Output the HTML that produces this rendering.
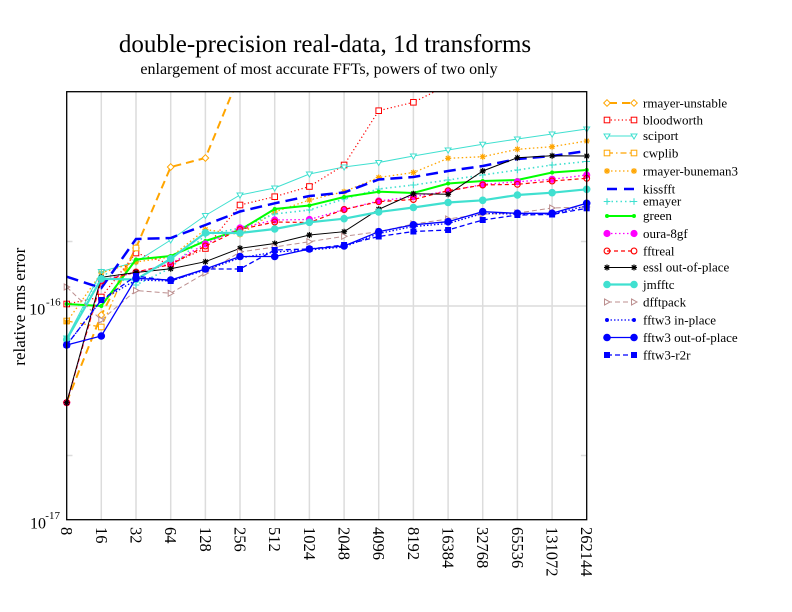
<!DOCTYPE html>
<html><head><meta charset="utf-8"><style>
html,body{margin:0;padding:0;background:#fff;}
svg{display:block;}
text{font-family:"Liberation Serif",serif;fill:#000;}
</style></head><body>
<svg width="792" height="612" viewBox="0 0 792 612" xmlns="http://www.w3.org/2000/svg">
<defs>
<clipPath id="pc"><rect x="55" y="91.7" width="545" height="433"/></clipPath>
<marker id="mDia" viewBox="-5 -5 10 10" refX="0" refY="0" markerWidth="10" markerHeight="10" markerUnits="userSpaceOnUse"><path d="M0,-3.3L3.3,0L0,3.3L-3.3,0Z" fill="#fff" stroke="#FFA500" stroke-width="1"/></marker>
<marker id="mSqR" viewBox="-5 -5 10 10" refX="0" refY="0" markerWidth="10" markerHeight="10" markerUnits="userSpaceOnUse"><rect x="-2.8" y="-2.8" width="5.6" height="5.6" fill="#fff" stroke="#FF0000" stroke-width="1"/></marker>
<marker id="mTri" viewBox="-5 -5 10 10" refX="0" refY="0" markerWidth="10" markerHeight="10" markerUnits="userSpaceOnUse"><path d="M-3,-2L3,-2L0,3Z" fill="#fff" stroke="#40E0D0" stroke-width="1"/></marker>
<marker id="mSqO" viewBox="-5 -5 10 10" refX="0" refY="0" markerWidth="10" markerHeight="10" markerUnits="userSpaceOnUse"><rect x="-2.8" y="-2.8" width="5.6" height="5.6" fill="#fff" stroke="#FFA500" stroke-width="1"/></marker>
<marker id="mAstO" viewBox="-5 -5 10 10" refX="0" refY="0" markerWidth="10" markerHeight="10" markerUnits="userSpaceOnUse"><path d="M-3,0H3M0,-3V3M-2.2,-2.2L2.2,2.2M-2.2,2.2L2.2,-2.2" stroke="#FFA500" stroke-width="1.2" fill="none"/></marker>
<marker id="mPlus" viewBox="-5 -5 10 10" refX="0" refY="0" markerWidth="10" markerHeight="10" markerUnits="userSpaceOnUse"><path d="M-3.3,0H3.3M0,-3.3V3.3" stroke="#40E0D0" stroke-width="1.1" fill="none"/></marker>
<marker id="mDotG" viewBox="-5 -5 10 10" refX="0" refY="0" markerWidth="10" markerHeight="10" markerUnits="userSpaceOnUse"><circle r="2" fill="#00FF00"/></marker>
<marker id="mCirM" viewBox="-5 -5 10 10" refX="0" refY="0" markerWidth="10" markerHeight="10" markerUnits="userSpaceOnUse"><circle r="3.6" fill="#FF00FF"/></marker>
<marker id="mCirR" viewBox="-5 -5 10 10" refX="0" refY="0" markerWidth="10" markerHeight="10" markerUnits="userSpaceOnUse"><circle r="2.9" fill="none" stroke="#FF0000" stroke-width="1.1"/></marker>
<marker id="mAstK" viewBox="-5 -5 10 10" refX="0" refY="0" markerWidth="10" markerHeight="10" markerUnits="userSpaceOnUse"><path d="M-3,0H3M0,-3V3M-2.2,-2.2L2.2,2.2M-2.2,2.2L2.2,-2.2" stroke="#000" stroke-width="1.2" fill="none"/></marker>
<marker id="mCirT" viewBox="-5 -5 10 10" refX="0" refY="0" markerWidth="10" markerHeight="10" markerUnits="userSpaceOnUse"><circle r="3.8" fill="#40E0D0"/></marker>
<marker id="mTriR" viewBox="-5 -5 10 10" refX="0" refY="0" markerWidth="10" markerHeight="10" markerUnits="userSpaceOnUse"><path d="M-2.5,-3L3,0L-2.5,3Z" fill="#fff" stroke="#BC8F8F" stroke-width="1"/></marker>
<marker id="mDotB" viewBox="-5 -5 10 10" refX="0" refY="0" markerWidth="10" markerHeight="10" markerUnits="userSpaceOnUse"><circle r="2" fill="#0000FF"/></marker>
<marker id="mCirB" viewBox="-5 -5 10 10" refX="0" refY="0" markerWidth="10" markerHeight="10" markerUnits="userSpaceOnUse"><circle r="3.8" fill="#0000FF"/></marker>
<marker id="mSqB" viewBox="-5 -5 10 10" refX="0" refY="0" markerWidth="10" markerHeight="10" markerUnits="userSpaceOnUse"><rect x="-3" y="-3" width="6" height="6" fill="#0000FF"/></marker>
</defs>

<rect width="792" height="612" fill="#fff"/>

<!-- titles -->
<text x="325" y="52" font-size="25" text-anchor="middle">double-precision real-data, 1d transforms</text>
<text x="319" y="74" font-size="16" text-anchor="middle">enlargement of most accurate FFTs, powers of two only</text>

<!-- grid -->
<g stroke="#dcdcdc" stroke-width="1.5">
<line x1="101.3" y1="91.7" x2="101.3" y2="519.7"/>
<line x1="136" y1="91.7" x2="136" y2="519.7"/>
<line x1="170.7" y1="91.7" x2="170.7" y2="519.7"/>
<line x1="205.4" y1="91.7" x2="205.4" y2="519.7"/>
<line x1="240" y1="91.7" x2="240" y2="519.7"/>
<line x1="274.7" y1="91.7" x2="274.7" y2="519.7"/>
<line x1="309.4" y1="91.7" x2="309.4" y2="519.7"/>
<line x1="344.1" y1="91.7" x2="344.1" y2="519.7"/>
<line x1="378.7" y1="91.7" x2="378.7" y2="519.7"/>
<line x1="413.4" y1="91.7" x2="413.4" y2="519.7"/>
<line x1="448.1" y1="91.7" x2="448.1" y2="519.7"/>
<line x1="482.7" y1="91.7" x2="482.7" y2="519.7"/>
<line x1="517.4" y1="91.7" x2="517.4" y2="519.7"/>
<line x1="552.1" y1="91.7" x2="552.1" y2="519.7"/>
<line x1="66.7" y1="306" x2="586.7" y2="306"/>
<line x1="66.7" y1="241.5" x2="72.5" y2="241.5"/>
<line x1="580.9" y1="241.5" x2="586.7" y2="241.5"/>
<line x1="66.7" y1="455.5" x2="72.5" y2="455.5"/>
<line x1="580.9" y1="455.5" x2="586.7" y2="455.5"/>
</g>

<!-- series -->
<g clip-path="url(#pc)" fill="none">
<polyline points="66.7,402 101.3,315 136,248 170.7,167 205.4,158 240,74" stroke="#FFA500" stroke-width="2" stroke-dasharray="8,5" marker-start="url(#mDia)" marker-mid="url(#mDia)" marker-end="url(#mDia)"/>
<polyline points="66.7,304 101.3,297 136,253 170.7,264 205.4,248.5 240,205 274.7,196.7 309.4,186.5 344.1,165 378.7,110.7 413.4,102.3 448.1,85" stroke="#FF0000" stroke-width="1.2" stroke-dasharray="1.2,2.5" marker-start="url(#mSqR)" marker-mid="url(#mSqR)" marker-end="url(#mSqR)"/>
<polyline points="66.7,338 101.3,271.5 136,262 170.7,240 205.4,215.5 240,195 274.7,188 309.4,174 344.1,167 378.7,162.5 413.4,156 448.1,150 482.7,144.3 517.4,139 552.1,134 586.7,129" stroke="#40E0D0" stroke-width="1" marker-start="url(#mTri)" marker-mid="url(#mTri)" marker-end="url(#mTri)"/>
<polyline points="66.7,321 101.3,327 136,248" stroke="#FFA500" stroke-width="1.2" stroke-dasharray="6,3,1.5,3" marker-start="url(#mSqO)" marker-mid="url(#mSqO)" marker-end="url(#mSqO)"/>
<polyline points="66.7,322 101.3,273 136,262 170.7,257 205.4,229.5 240,234.5 274.7,212 309.4,200 344.1,191.7 378.7,177.5 413.4,172.5 448.1,158.3 482.7,156.7 517.4,149.3 552.1,146.7 586.7,141" stroke="#FFA500" stroke-width="1.3" stroke-dasharray="1.5,2.5" marker-start="url(#mAstO)" marker-mid="url(#mAstO)" marker-end="url(#mAstO)"/>
<polyline points="66.7,276.7 101.3,288 136,239 170.7,238 205.4,225 240,211.5 274.7,203.3 309.4,196 344.1,192.5 378.7,179.5 413.4,177 448.1,171 482.7,166 517.4,159 552.1,156 586.7,151" stroke="#0000FF" stroke-width="2.5" stroke-dasharray="12,6"/>
<polyline points="66.7,340 101.3,272 136,285 170.7,268 205.4,235 240,228 274.7,214 309.4,210 344.1,199 378.7,189 413.4,185 448.1,180 482.7,175 517.4,170 552.1,165 586.7,161.5" stroke="#40E0D0" stroke-width="1.6" stroke-dasharray="1.5,3" marker-start="url(#mPlus)" marker-mid="url(#mPlus)" marker-end="url(#mPlus)"/>
<polyline points="66.7,304 101.3,306 136,259.5 170.7,256 205.4,241 240,230 274.7,209 309.4,205.5 344.1,197 378.7,191.7 413.4,193 448.1,183.5 482.7,181 517.4,180 552.1,172.5 586.7,170" stroke="#00FF00" stroke-width="2" marker-start="url(#mDotG)" marker-mid="url(#mDotG)" marker-end="url(#mDotG)"/>
<polyline points="66.7,402.7 101.3,280 136,272.7 170.7,263.5 205.4,244 240,228 274.7,220 309.4,219.5 344.1,209.5 378.7,201 413.4,196.7 448.1,191 482.7,184.5 517.4,181.7 552.1,179.3 586.7,175" stroke="#FF00FF" stroke-width="1.3" stroke-dasharray="1.5,2.5" marker-start="url(#mCirM)" marker-mid="url(#mCirM)" marker-end="url(#mCirM)"/>
<polyline points="66.7,402.7 101.3,281 136,272 170.7,264.5 205.4,246 240,229.5 274.7,222 309.4,222.5 344.1,209.5 378.7,201.7 413.4,199.5 448.1,190.7 482.7,185 517.4,184.3 552.1,181 586.7,178.3" stroke="#FF0000" stroke-width="1.2" stroke-dasharray="4,3" marker-start="url(#mCirR)" marker-mid="url(#mCirR)" marker-end="url(#mCirR)"/>
<polyline points="66.7,402.7 101.3,277.3 136,272.5 170.7,268.8 205.4,261.7 240,248.3 274.7,243.5 309.4,235 344.1,231.7 378.7,209.3 413.4,193.8 448.1,194.3 482.7,171 517.4,157.7 552.1,155.7 586.7,156" stroke="#000" stroke-width="1" marker-start="url(#mAstK)" marker-mid="url(#mAstK)" marker-end="url(#mAstK)"/>
<polyline points="66.7,339.5 101.3,278.8 136,279.5 170.7,258.8 205.4,232.8 240,233 274.7,229 309.4,222.3 344.1,218.7 378.7,212 413.4,207.5 448.1,202.5 482.7,200.3 517.4,195 552.1,192.7 586.7,189.3" stroke="#40E0D0" stroke-width="2.2" marker-start="url(#mCirT)" marker-mid="url(#mCirT)" marker-end="url(#mCirT)"/>
<polyline points="66.7,287 101.3,320 136,290.5 170.7,293.3 205.4,273 240,252 274.7,247 309.4,241.7 344.1,236.3 378.7,231.7 413.4,224 448.1,219 482.7,214 517.4,213 552.1,208 586.7,207" stroke="#BC8F8F" stroke-width="1" stroke-dasharray="5,3" marker-start="url(#mTriR)" marker-mid="url(#mTriR)" marker-end="url(#mTriR)"/>
<polyline points="66.7,345 101.3,300 136,280 170.7,281 205.4,270 240,258 274.7,252 309.4,250 344.1,247 378.7,233.5 413.4,226.5 448.1,223.5 482.7,213.5 517.4,214 552.1,214 586.7,206" stroke="#0000FF" stroke-width="1.3" stroke-dasharray="1.5,2" marker-start="url(#mDotB)" marker-mid="url(#mDotB)" marker-end="url(#mDotB)"/>
<polyline points="66.7,345 101.3,336 136,278.3 170.7,280 205.4,269 240,256.5 274.7,256.5 309.4,249 344.1,246 378.7,231.7 413.4,224.8 448.1,221.7 482.7,211.7 517.4,213.3 552.1,213.3 586.7,203.3" stroke="#0000FF" stroke-width="1.3" marker-start="url(#mCirB)" marker-mid="url(#mCirB)" marker-end="url(#mCirB)"/>
<polyline points="66.7,345 101.3,300 136,276 170.7,281 205.4,269 240,269 274.7,250 309.4,249 344.1,245 378.7,236.5 413.4,231.5 448.1,230 482.7,220 517.4,215 552.1,214.5 586.7,208.3" stroke="#0000FF" stroke-width="1.3" stroke-dasharray="5,3" marker-start="url(#mSqB)" marker-mid="url(#mSqB)" marker-end="url(#mSqB)"/>
</g>

<!-- frame -->
<rect x="66.7" y="91.7" width="520" height="428" fill="none" stroke="#000" stroke-width="1.3"/>

<!-- y axis labels -->
<text x="29.3" y="314.3" font-size="16">10</text>
<text x="46" y="305.7" font-size="11">-16</text>
<text x="30" y="528.3" font-size="16">10</text>
<text x="45.3" y="519" font-size="11">-17</text>
<text transform="translate(25,306.7) rotate(-90)" font-size="17" text-anchor="middle">relative rms error</text>

<!-- x tick labels -->
<g font-size="16.5">
<text transform="translate(61.2,527) rotate(90)">8</text>
<text transform="translate(95.8,527) rotate(90)">16</text>
<text transform="translate(130.5,527) rotate(90)">32</text>
<text transform="translate(165.2,527) rotate(90)">64</text>
<text transform="translate(199.9,527) rotate(90)">128</text>
<text transform="translate(234.5,527) rotate(90)">256</text>
<text transform="translate(269.2,527) rotate(90)">512</text>
<text transform="translate(303.9,527) rotate(90)">1024</text>
<text transform="translate(338.6,527) rotate(90)">2048</text>
<text transform="translate(373.2,527) rotate(90)">4096</text>
<text transform="translate(407.9,527) rotate(90)">8192</text>
<text transform="translate(442.6,527) rotate(90)">16384</text>
<text transform="translate(477.2,527) rotate(90)">32768</text>
<text transform="translate(511.9,527) rotate(90)">65536</text>
<text transform="translate(546.6,527) rotate(90)">131072</text>
<text transform="translate(581.2,527) rotate(90)">262144</text>
</g>

<!-- legend -->
<g fill="none">
<line x1="607" y1="103" x2="634" y2="103" stroke="#FFA500" stroke-width="2" stroke-dasharray="8,5" stroke-dashoffset="-2" marker-start="url(#mDia)" marker-end="url(#mDia)"/>
<line x1="607" y1="120" x2="634" y2="120" stroke="#FF0000" stroke-width="1.2" stroke-dasharray="1.2,2.5" marker-start="url(#mSqR)" marker-end="url(#mSqR)"/>
<line x1="607" y1="136" x2="634" y2="136" stroke="#40E0D0" stroke-width="1" marker-start="url(#mTri)" marker-end="url(#mTri)"/>
<line x1="607" y1="153" x2="634" y2="153" stroke="#FFA500" stroke-width="1.2" stroke-dasharray="6,3,1.5,3" marker-start="url(#mSqO)" marker-end="url(#mSqO)"/>
<line x1="607" y1="171" x2="634" y2="171" stroke="#FFA500" stroke-width="1.3" stroke-dasharray="1.5,2.5" marker-start="url(#mAstO)" marker-end="url(#mAstO)"/>
<line x1="607" y1="189" x2="634" y2="189" stroke="#0000FF" stroke-width="2.5" stroke-dasharray="10,7"/>
<line x1="607" y1="201.5" x2="634" y2="201.5" stroke="#40E0D0" stroke-width="1.6" stroke-dasharray="1.5,3" marker-start="url(#mPlus)" marker-end="url(#mPlus)"/>
<line x1="607" y1="216" x2="634" y2="216" stroke="#00FF00" stroke-width="2" marker-start="url(#mDotG)" marker-end="url(#mDotG)"/>
<line x1="607" y1="233.5" x2="634" y2="233.5" stroke="#FF00FF" stroke-width="1.3" stroke-dasharray="1.5,2.5" marker-start="url(#mCirM)" marker-end="url(#mCirM)"/>
<line x1="607" y1="251" x2="634" y2="251" stroke="#FF0000" stroke-width="1.2" stroke-dasharray="4,3" marker-start="url(#mCirR)" marker-end="url(#mCirR)"/>
<line x1="607" y1="267.5" x2="634" y2="267.5" stroke="#000" stroke-width="1" marker-start="url(#mAstK)" marker-end="url(#mAstK)"/>
<line x1="607" y1="284.5" x2="634" y2="284.5" stroke="#40E0D0" stroke-width="2.2" marker-start="url(#mCirT)" marker-end="url(#mCirT)"/>
<line x1="607" y1="302" x2="634" y2="302" stroke="#BC8F8F" stroke-width="1" stroke-dasharray="5,3" marker-start="url(#mTriR)" marker-end="url(#mTriR)"/>
<line x1="607" y1="320" x2="634" y2="320" stroke="#0000FF" stroke-width="1.3" stroke-dasharray="1.5,2" marker-start="url(#mDotB)" marker-end="url(#mDotB)"/>
<line x1="607" y1="337.5" x2="634" y2="337.5" stroke="#0000FF" stroke-width="1.3" marker-start="url(#mCirB)" marker-end="url(#mCirB)"/>
<line x1="607" y1="355" x2="634" y2="355" stroke="#0000FF" stroke-width="1.3" stroke-dasharray="5,3" marker-start="url(#mSqB)" marker-end="url(#mSqB)"/>
</g>
<g font-size="13">
<text x="643" y="107.5">rmayer-unstable</text>
<text x="643" y="124.5">bloodworth</text>
<text x="643" y="140">sciport</text>
<text x="643" y="157.5">cwplib</text>
<text x="643" y="175.5">rmayer-buneman3</text>
<text x="643" y="193.5">kissfft</text>
<text x="643" y="205.5">emayer</text>
<text x="643" y="220">green</text>
<text x="643" y="238">oura-8gf</text>
<text x="643" y="255.5">fftreal</text>
<text x="643" y="271.5">essl out-of-place</text>
<text x="643" y="289">jmfftc</text>
<text x="643" y="306.5">dfftpack</text>
<text x="643" y="324.5">fftw3 in-place</text>
<text x="643" y="342">fftw3 out-of-place</text>
<text x="643" y="359.5">fftw3-r2r</text>
</g>
</svg>
</body></html>
